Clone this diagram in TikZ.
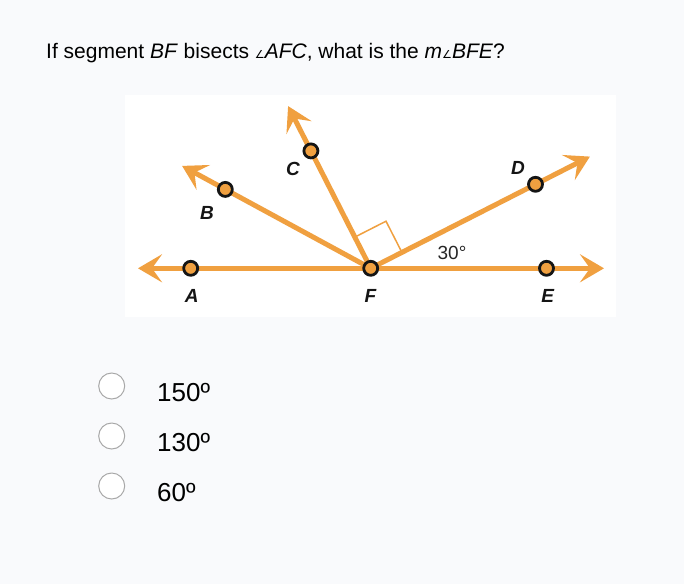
\documentclass[tikz,border=0pt]{standalone}
\usepackage{fontspec}
\setmainfont{Liberation Sans}
\newfontfamily\dejavu{DejaVu Sans}
\usetikzlibrary{arrows.meta}
\definecolor{bgc}{HTML}{F9FAFC}
\definecolor{org}{HTML}{F0A040}
\definecolor{ring}{HTML}{151515}
\definecolor{radiog}{HTML}{A8A8A8}
\newcommand{\angsym}{{\dejavu\fontsize{11}{11}\selectfont ∠}}
\tikzset{
  ray/.style={draw=org, line width=5pt, -{Stealth[length=24pt,width=28pt,inset=10pt]}},
  ptdot/.style={circle, draw=ring, fill=org, line width=2.8pt, minimum size=14pt, inner sep=0pt},
  ptlabel/.style={font=\fontsize{19}{19}\selectfont\bfseries\itshape, inner sep=0pt, text=ring},
  radio/.style={circle, draw=radiog, fill=white, line width=1pt, minimum size=26pt, inner sep=0pt},
  answer/.style={anchor=base west, inner sep=0pt, font=\fontsize{26}{26}\selectfont},
}
\begin{document}
\begin{tikzpicture}[x=1pt,y=-1pt]
\fill[bgc] (0,0) rectangle (684,584);
\useasboundingbox (0,0) rectangle (684,584);
\fill[white] (125,95) rectangle (616,316.5);
% question
\node[anchor=base west, inner sep=0pt, font=\fontsize{21}{21}\selectfont] (q) at (46,58.5)
  {If segment \textit{BF} bisects \angsym\textit{AFC}, what is the \textit{m}\angsym\textit{BFE}?};
% geometry
\coordinate (F) at (370.7,268.3);
\coordinate (tA) at (138,268.3);
\coordinate (tE) at (604,268.3);
\coordinate (tB) at (182.1,165.9);
\coordinate (tC) at (288.1,106.1);
\coordinate (tD) at (589.9,156.6);
\coordinate (r1) at (401.9,252.4);
\coordinate (r2) at (386.0,221.2);
\coordinate (r3) at (354.8,237.1);
\draw[org, line width=1.5pt] (r1) -- (r2) -- (r3);
\draw[ray] (F) -- (tA);
\draw[ray] (F) -- (tE);
\draw[ray] (F) -- (tB);
\draw[ray] (F) -- (tC);
\draw[ray] (F) -- (tD);
\node[ptdot] (A) at (190.7,268.3) {};
\node[ptdot] (E) at (546.5,268.3) {};
\node[ptdot] (B) at (225.3,189.4) {};
\node[ptdot] (C) at (310.9,150.9) {};
\node[ptdot] (D) at (535.5,184.3) {};
\node[ptdot] (Fd) at (F) {};
\node[ptlabel] (lA) at (191.7,295.5) {A};
\node[ptlabel] (lB) at (207,213) {B};
\node[ptlabel] (lC) at (293,169) {C};
\node[ptlabel] (lD) at (518,168) {D};
\node[ptlabel] (lE) at (547.7,295.5) {E};
\node[ptlabel] (lF) at (370.5,295.5) {F};
\node[inner sep=0pt, font=\fontsize{19}{19}\selectfont, text=black!85] (l30) at (452,253) {30°};
% answers
\node[radio] (r150) at (111.7,386) {};
\node[radio] (r130) at (111.7,436) {};
\node[radio] (r60) at (111.7,486) {};
\node[answer] (a150) at (157,401.5) {150º};
\node[answer] (a130) at (157,451.5) {130º};
\node[answer] (a60) at (157,501.5) {60º};
\end{tikzpicture}
\end{document}
